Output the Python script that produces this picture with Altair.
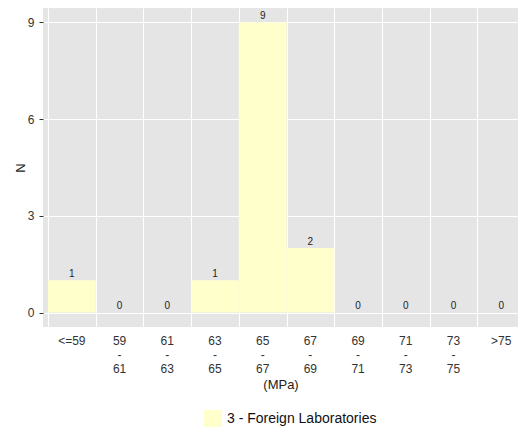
import altair as alt
import pandas as pd

# ---- data ----
bin_labels = ["<=59", "59\n-\n61", "61\n-\n63", "63\n-\n65", "65\n-\n67",
              "67\n-\n69", "69\n-\n71", "71\n-\n73", "73\n-\n75", ">75"]
counts = [1, 0, 0, 1, 9, 2, 0, 0, 0, 0]
series_name = "3 - Foreign Laboratories"
y_ticks = [0, 3, 6, 9]

n = len(bin_labels)
df = pd.DataFrame({
    "start": list(range(n)),
    "end": [i + 1 for i in range(n)],
    "mid": [i + 0.5 for i in range(n)],
    "count": counts,
    "label": bin_labels,
    "group": [series_name] * n,
})

FONT = "Liberation Sans"
Y_MIN, Y_MAX = -0.45, 9.45

x_scale = alt.Scale(domain=[-0.105, 9.853], nice=False, zero=False)
y_scale = alt.Scale(domain=[Y_MIN, Y_MAX], nice=False, zero=False)

x_axis = alt.Axis(
    values=[float(i) for i in range(n + 1)],
    labels=False, ticks=False, domain=False,
    grid=True, gridColor="white", gridWidth=1.1,
    title="(MPa)", titleFont=FONT, titleFontSize=13, titleFontWeight="normal",
    titleColor="#222222", titlePadding=51.5,
)
y_axis = alt.Axis(
    values=y_ticks, domain=False,
    ticks=True, tickSize=4, tickColor="#333333", tickWidth=1,
    grid=True, gridColor="white", gridWidth=1.1,
    labelFont=FONT, labelFontSize=12, labelColor="#333333",
    labelPadding=5,
    title="N", titleFont=FONT, titleFontSize=13, titleFontWeight="normal",
    titleColor="#222222", titlePadding=0,
)

bars = alt.Chart(df).mark_rect().encode(
    x=alt.X("start:Q", scale=x_scale, axis=x_axis),
    x2="end:Q",
    y=alt.Y("count:Q", scale=y_scale, axis=y_axis),
    y2=alt.datum(0),
    color=alt.Color(
        "group:N",
        scale=alt.Scale(range=["#FFFFCC"]),
        legend=alt.Legend(
            title=None, orient="none", legendX=161, legendY=402,
            symbolType="square", symbolSize=324, symbolStrokeWidth=0,
            labelFont=FONT, labelFontSize=14, labelColor="#111111",
            labelOffset=5, padding=0,
        ),
    ),
)

value_labels = alt.Chart(df).mark_text(
    baseline="alphabetic", dy=-3.5, fontSize=10, font=FONT, color="#222222"
).encode(
    x=alt.X("mid:Q", scale=x_scale),
    y=alt.Y("count:Q", scale=y_scale),
    text="count:Q",
)

tick_labels = alt.Chart(df).mark_text(
    baseline="top", dy=9, fontSize=12, font=FONT, color="#333333",
    lineBreak="\n", lineHeight=13.8,
).encode(
    x=alt.X("mid:Q", scale=x_scale),
    y=alt.datum(Y_MIN),
    text="label:N",
)

chart = (bars + value_labels + tick_labels).properties(
    width=475, height=319,
    autosize=alt.AutoSizeParams(type="none"),
    padding={"left": 35, "top": 0, "right": 0, "bottom": 100},
    background="white",
).configure_view(fill="#E5E5E5", strokeWidth=0)

chart.save("out.html", embed_options={"renderer": "svg", "actions": False})
